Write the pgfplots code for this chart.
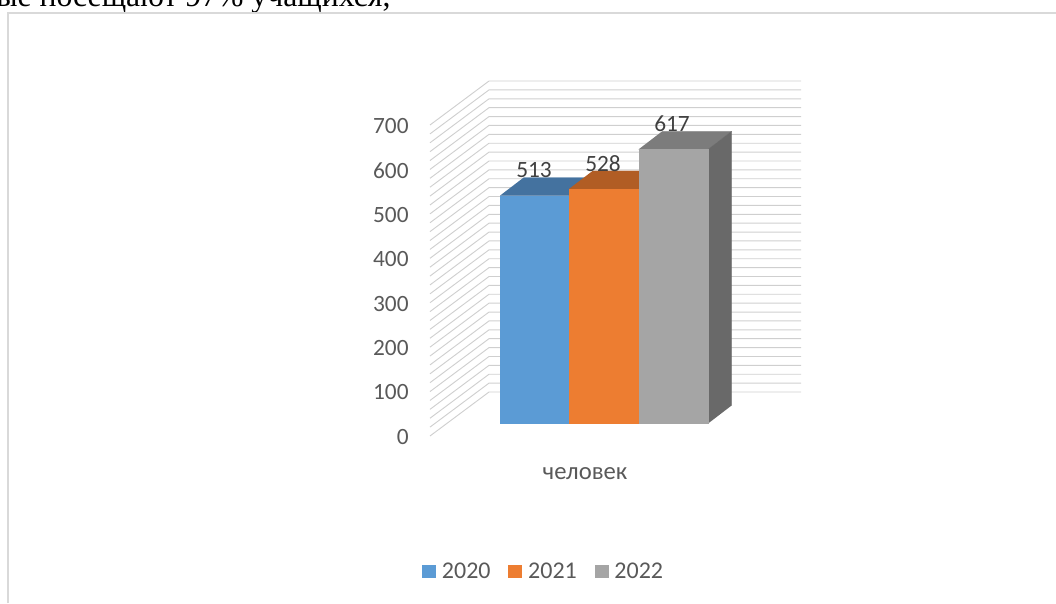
\documentclass[border=0pt]{standalone}
\usepackage{pgfplots}
\pgfplotsset{compat=1.18}
\usepackage{fontspec}
\setmainfont{Carlito}
\newfontfamily\timesf{Liberation Serif}
\definecolor{txt}{HTML}{595959}
\definecolor{lab}{HTML}{404040}
\definecolor{gridc}{HTML}{CFCFCF}
\definecolor{frame}{HTML}{D9D9D9}
\definecolor{cA}{HTML}{5B9BD5}\definecolor{cAt}{HTML}{44729F}
\definecolor{cB}{HTML}{ED7D31}\definecolor{cBt}{HTML}{B15D24}
\definecolor{cC}{HTML}{A5A5A5}\definecolor{cCt}{HTML}{7C7C7C}\definecolor{cCs}{HTML}{696969}
% x in picture pixels, v = value, d = depth fraction (0 front, 1 back)
\newcommand\face[2]{\addplot[fill=#1,draw=#1,line width=0.2pt,forget plot] table[row sep=\\,x expr=\thisrow{x}+23.5*\thisrow{d},y expr=\thisrow{v}+28+40.5*\thisrow{d}] {x v d\\ #2};}
\newcommand\front[2]{\addplot[fill=#1,draw=#1,line width=0.2pt] table[row sep=\\,y expr=\thisrow{v}+28] {x v\\ #2};}
\begin{document}
\begin{tikzpicture}[x=0.75pt,y=0.75pt]
\path[use as bounding box] (0,0) rectangle (1056,603);
\clip (0,0) rectangle (1056,603);
\node[anchor=base west,inner sep=0pt,font=\timesf\fontsize{23.8pt}{25pt}\selectfont,text=black] at (-4,596) {ые посещают 97\% учащихся,};
\draw[frame,line width=1.2pt] (8,0) -- (8,590) -- (1056,590);
\begin{axis}[
  at={(322.5pt,125.25pt)},anchor=south west,scale only axis,
  width=278.25pt,height=233.25pt,
  xmin=430,xmax=801,ymin=0,ymax=700,clip=false,
  axis line style={draw=none},major tick style={draw=none},
  ytick={0,100,...,700},xtick={585},xticklabels={человек},
  axis x line*=bottom,axis y line*=left,
  /pgf/number format/assume math mode=true,
  ticklabel style={font=\fontsize{17.5pt}{18pt}\selectfont,text=txt},
  yticklabel style={xshift=-12.5pt,yshift=-0.7pt},
  xticklabel style={yshift=-20pt,font=\fontsize{18.5pt}{19pt}\selectfont},
  legend columns=3,
  legend style={draw=none,fill=none,at={(axis cs:544,-305)},anchor=center,
    font=\fontsize{18pt}{19pt}\selectfont,text=txt,
    /tikz/every even column/.style={column sep=11.4pt}},
  legend image code/.code={\fill[#1,draw=none] (0.35cm,-5.2pt) rectangle (0.35cm+10.5pt,5.2pt);\path (0.35cm+12.7pt,0);},
]
% walls
\pgfplotsinvokeforeach{0,20,...,700}{
  \draw[gridc,line width=0.7pt] (axis cs:430,#1) -- (axis cs:489,#1+99) -- (axis cs:801,#1+99);
}
% hidden/back faces
\face{cAt}{500 513 0\\ 569 513 0\\ 569 513 1\\ 500 513 1\\}
\face{cBt}{569 528 0\\ 638.5 528 0\\ 638.5 528 1\\ 569 528 1\\}
\face{cCt}{638.5 617 0\\ 708 617 0\\ 708 617 1\\ 638.5 617 1\\}
\face{cCs}{708 0 0\\ 708 617 0\\ 708 617 1\\ 708 0 1\\}
% front faces
\front{cA}{500 0\\ 569 0\\ 569 513\\ 500 513\\}
\addlegendentry{2020}
\front{cB}{569 0\\ 638.5 0\\ 638.5 528\\ 569 528\\}
\addlegendentry{2021}
\front{cC}{638.5 0\\ 708 0\\ 708 617\\ 638.5 617\\}
\addlegendentry{2022}
\node[font=\fontsize{17.5pt}{18pt}\selectfont,text=lab,inner sep=0pt] at (axis cs:534,599) {513};
\node[font=\fontsize{17.5pt}{18pt}\selectfont,text=lab,inner sep=0pt] at (axis cs:603,612) {528};
\node[font=\fontsize{17.5pt}{18pt}\selectfont,text=lab,inner sep=0pt] at (axis cs:672,704) {617};
\end{axis}
\end{tikzpicture}
\end{document}
